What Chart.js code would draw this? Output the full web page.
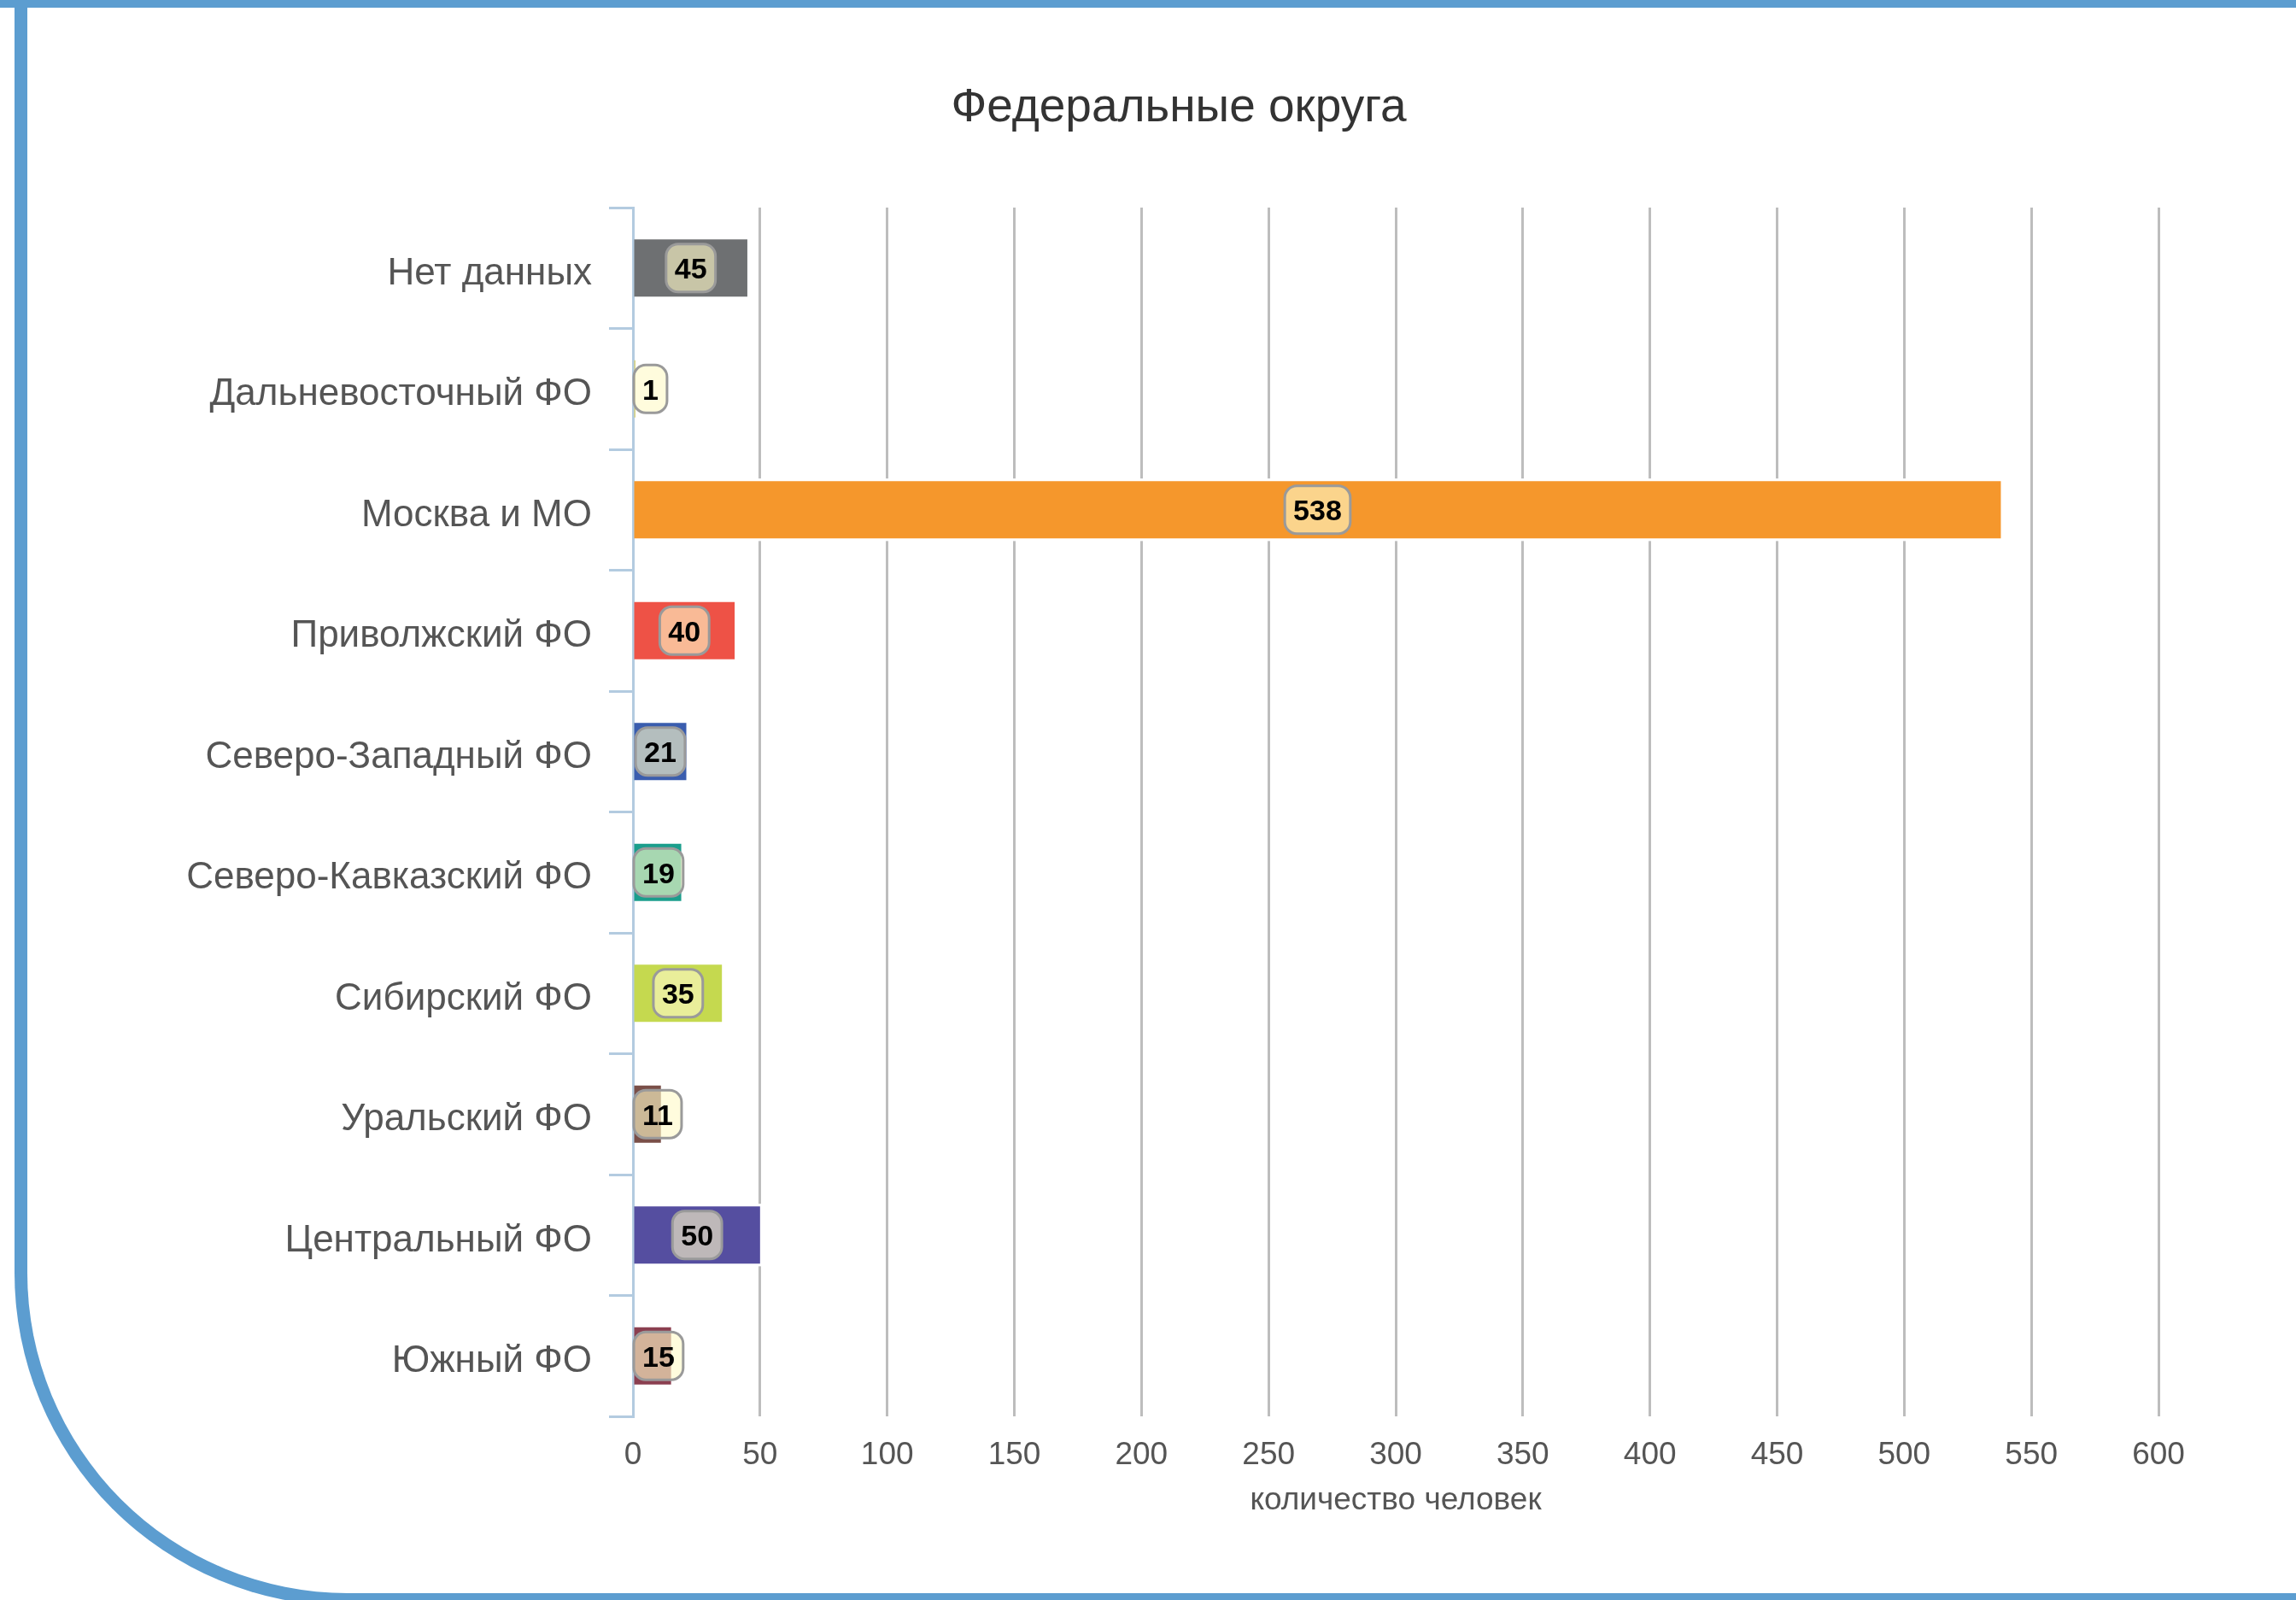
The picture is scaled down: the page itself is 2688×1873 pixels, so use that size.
<!DOCTYPE html>
<html>
<head>
<meta charset="utf-8">
<script src="https://cdn.jsdelivr.net/npm/chart.js@4.4.0/dist/chart.umd.min.js"></script>
<style>
  html, body { margin: 0; padding: 0; background: #fff; overflow: hidden; }
  #frame {
    position: absolute; left: 17px; top: -6px; width: 3000px; height: 1886px;
    box-sizing: border-box;
    border-left: 15px solid #5c9dd0; border-top: 15px solid #5c9dd0; border-bottom: 15px solid #5c9dd0;
    border-bottom-left-radius: 390px;
  }
  #topband { position: absolute; left: 0; top: 0; width: 2688px; height: 9px; background: #5c9dd0; }
  #myChart { position: absolute; left: 0; top: 0; }
</style>
</head>
<body>
<div id="frame"></div>
<div id="topband"></div>
<canvas id="myChart" width="2688" height="1873"></canvas>
<script>
let districts = ['Нет данных', 'Дальневосточный ФО', 'Москва и МО', 'Приволжский ФО', 'Северо-Западный ФО',
    'Северо-Кавказский ФО', 'Сибирский ФО', 'Уральский ФО', 'Центральный ФО', 'Южный ФО'];
let people = [45, 1, 538, 40, 21, 19, 35, 11, 50, 15];
let barColors = ['#6e7072', '#d9d27a', '#f5972c', '#ee5246', '#3a5dae',
    '#1a9e8c', '#c5d94f', '#7a4f48', '#554ea0', '#8b3f50'];
let xTicks = [0, 50, 100, 150, 200, 250, 300, 350, 400, 450, 500, 550, 600];

const FONT = "'Liberation Sans', Arial, sans-serif";

// white halo round the bars, so the grid lines stop short of them
let barHalo = {
    id: 'barHalo',
    beforeDatasetsDraw(chart) {
        let ctx = chart.ctx;
        ctx.save();
        ctx.fillStyle = '#fff';
        chart.getDatasetMeta(0).data.forEach(bar => {
            let p = bar.getProps(['x', 'y', 'base', 'height'], true);
            ctx.fillRect(p.base + 2, p.y - p.height / 2 - 3, p.x - p.base + 2, p.height + 6);
        });
        ctx.restore();
    }
};

// rounded value boxes in the middle of each bar
let valueBoxes = {
    id: 'valueBoxes',
    afterDatasetsDraw(chart) {
        let ctx = chart.ctx;
        let left = chart.chartArea.left;
        ctx.save();
        ctx.font = 'bold 34px ' + FONT;
        ctx.textAlign = 'center';
        ctx.textBaseline = 'middle';
        chart.getDatasetMeta(0).data.forEach((bar, i) => {
            let p = bar.getProps(['x', 'y', 'base'], true);
            let txt = String(people[i]);
            let w = ctx.measureText(txt).width + 20;
            let h = 56;
            let cx = Math.max((p.x + p.base) / 2, left + 1 + w / 2);
            ctx.beginPath();
            ctx.roundRect(cx - w / 2, p.y - h / 2, w, h, 14);
            ctx.fillStyle = 'rgba(255, 250, 200, 0.62)';
            ctx.fill();
            ctx.lineWidth = 3;
            ctx.strokeStyle = '#9a9a9a';
            ctx.stroke();
            ctx.fillStyle = '#000';
            ctx.fillText(txt, cx, p.y + 3);
        });
        ctx.restore();
    }
};

// title sits a little right of the canvas middle
let titleShift = {
    id: 'titleShift',
    afterLayout(chart) {
        if (chart.titleBlock) chart.titleBlock.left = 233;
    }
};

let myChart = document.getElementById('myChart').getContext('2d');
let districtChart = new Chart(myChart, {
    type: 'bar',
    data: {
        labels: districts,
        datasets: [{
            label: 'количество человек',
            data: people,
            backgroundColor: barColors,
            borderWidth: 0,
            barPercentage: 0.475,
            categoryPercentage: 1
        }]
    },
    options: {
        indexAxis: 'y',
        responsive: false,
        animation: false,
        devicePixelRatio: 1,
        layout: { padding: { left: 190, right: 161, top: 94, bottom: 94 } },
        plugins: {
            legend: { display: false },
            tooltip: { enabled: false },
            title: {
                display: true,
                text: 'Федеральные округа',
                color: '#333',
                font: { family: FONT, size: 55, weight: 'normal' },
                padding: { top: 0, bottom: 83 }
            }
        },
        scales: {
            x: {
                min: 0,
                max: 600,
                afterBuildTicks: s => { s.ticks = xTicks.map(v => ({ value: v })); },
                afterFit: s => { s.height = 121; },
                grid: {
                    color: c => (c.tick && c.tick.value === 0) ? 'rgba(0,0,0,0)' : '#bdbdbd',
                    lineWidth: 3,
                    drawTicks: false
                },
                border: { display: false },
                ticks: { color: '#555', padding: 24, font: { family: FONT, size: 37 } },
                title: {
                    display: true,
                    text: 'количество человек',
                    color: '#555',
                    padding: { top: 0, bottom: 0 },
                    font: { family: FONT, size: 37 }
                }
            },
            y: {
                afterFit: s => { s.width = 741 - 190; },
                grid: {
                    color: '#b3cbe0',
                    lineWidth: 3,
                    drawOnChartArea: false,
                    tickLength: 28,
                    offset: true
                },
                border: { color: '#b3cbe0', width: 3 },
                ticks: { color: '#555', padding: 20, labelOffset: 7, font: { family: FONT, size: 44 } }
            }
        }
    },
    plugins: [barHalo, valueBoxes, titleShift]
});
</script>
</body>
</html>
